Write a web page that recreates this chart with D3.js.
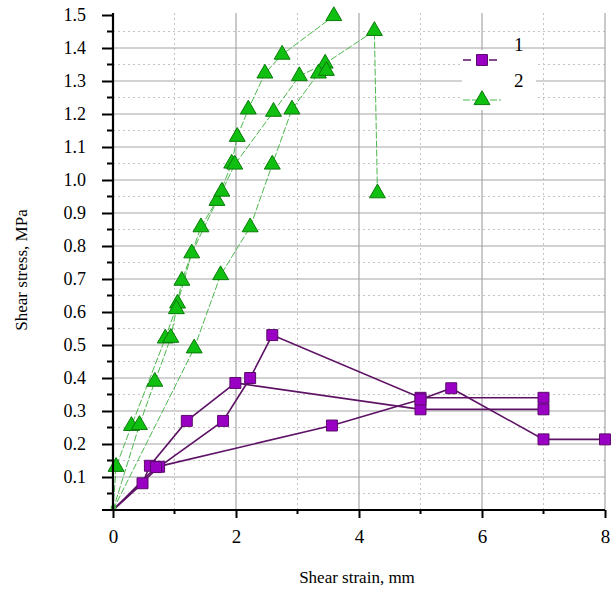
<!DOCTYPE html>
<html>
<head>
<meta charset="utf-8">
<script src="https://cdn.jsdelivr.net/npm/d3@7"></script>
<style>
body { margin: 0; background: #fff; }
text { font-family: "Liberation Serif", "Times New Roman", serif; }
</style>
</head>
<body>
<script>
// series 1: purple squares, three specimens
var purple1 = [[0,0],[0.48,0.081],[0.6,0.134],[1.2,0.27],[1.99,0.385],[5.0,0.305],[7.0,0.305]];
var purple2 = [[0,0],[0.75,0.131],[1.79,0.27],[2.23,0.40],[2.59,0.53],[5.0,0.34],[7.0,0.34]];
var purple3 = [[0,0],[0.7,0.13],[3.56,0.256],[5.0,0.335],[5.5,0.369],[7.0,0.214],[8.0,0.214]];
// series 2: green triangles
var green1 = [[0,0],[0.05,0.131],[0.30,0.255],[0.85,0.52],[1.05,0.626],[1.28,0.778],[1.69,0.937],[1.93,1.05],[2.02,1.131],[2.20,1.214],[2.47,1.323],[2.75,1.38],[3.59,1.497]];
var green2 = [[0,0],[0.43,0.258],[0.68,0.389],[0.94,0.522],[1.03,0.609],[1.12,0.695],[1.43,0.857],[1.77,0.965],[1.98,1.047],[2.61,1.207],[3.03,1.315],[3.45,1.353],[4.25,1.452],[4.30,0.96]];
var green3 = [[0,0],[1.32,0.49],[1.75,0.712],[2.23,0.857],[2.59,1.047],[2.91,1.214],[3.34,1.323],[3.47,1.331]];

var xTicks = [0, 2, 4, 6, 8];
var yTicks = [0.1,0.2,0.3,0.4,0.5,0.6,0.7,0.8,0.9,1.0,1.1,1.2,1.3,1.4,1.5];
var legendLabels = ["1", "2"];

var width = 611, height = 590;
var margin = {left: 113, top: 15, right: 6, bottom: 80};

var svg = d3.select("body").append("svg")
    .attr("width", width)
    .attr("height", height);

var x = d3.scaleLinear().domain([0, 8]).range([margin.left, width - margin.right]);
var y = d3.scaleLinear().domain([0, 1.5]).range([height - margin.bottom, margin.top]);

// grid: dotted at half steps, solid at main steps
var grid = svg.append("g");
d3.range(0.05, 1.5, 0.1).forEach(function(v) {
    grid.append("line").attr("x1", x(0)).attr("x2", x(8)).attr("y1", y(v)).attr("y2", y(v))
        .attr("stroke", "#c4c4c4").attr("stroke-dasharray", "2,3");
});
[1, 3, 5, 7].forEach(function(v) {
    grid.append("line").attr("x1", x(v)).attr("x2", x(v)).attr("y1", y(0)).attr("y2", y(1.5) - 2)
        .attr("stroke", "#c4c4c4").attr("stroke-dasharray", "2,3");
});
yTicks.slice(0, -1).forEach(function(v) {
    grid.append("line").attr("x1", x(0)).attr("x2", x(8)).attr("y1", y(v)).attr("y2", y(v))
        .attr("stroke", "#a6a6a6").attr("stroke-width", 1.2);
});
xTicks.slice(1).forEach(function(v) {
    grid.append("line").attr("x1", x(v)).attr("x2", x(v)).attr("y1", y(0)).attr("y2", y(1.5) - 2)
        .attr("stroke", "#a6a6a6").attr("stroke-width", 1.2);
});

// legend backdrop
svg.append("rect").attr("x", 462).attr("y", 50).attr("width", 74).attr("height", 60).attr("fill", "#fff");

var line = d3.line().x(function(d) { return x(d[0]); }).y(function(d) { return y(d[1]); });

[green1, green2, green3].forEach(function(s) {
    svg.append("path").datum(s).attr("d", line)
       .attr("fill", "none").attr("stroke", "#4cb84c").attr("stroke-width", 1)
       .attr("stroke-dasharray", "7,2");
});
[purple1, purple2, purple3].forEach(function(s) {
    svg.append("path").datum(s).attr("d", line)
       .attr("fill", "none").attr("stroke", "#5e1266").attr("stroke-width", 1.6);
});

var tri = d3.symbol().type(d3.symbolTriangle).size(110);
var sq = d3.symbol().type(d3.symbolSquare).size(120);

[green1, green2, green3].forEach(function(s) {
    svg.append("g").selectAll("path").data(s.slice(1)).enter().append("path")
       .attr("d", tri)
       .attr("transform", function(d) { return "translate(" + x(d[0]) + "," + y(d[1]) + ")"; })
       .attr("fill", "#10c010").attr("stroke", "#0a7a0a").attr("stroke-width", 1);
});
[purple1, purple2, purple3].forEach(function(s) {
    svg.append("g").selectAll("path").data(s.slice(1)).enter().append("path")
       .attr("d", sq)
       .attr("transform", function(d) { return "translate(" + x(d[0]) + "," + y(d[1]) + ")"; })
       .attr("fill", "#9a00c4").attr("stroke", "#5a0a6a").attr("stroke-width", 1);
});
// start points at origin
svg.append("path").attr("d", d3.symbol().type(d3.symbolSquare).size(30))
   .attr("transform", "translate(" + x(0.01) + "," + y(0.005) + ")").attr("fill", "#3fae3f");

// axes
var yAxis = d3.axisLeft(y).tickValues(yTicks).tickSize(11).tickPadding(16).tickFormat(d3.format(".1f"));
var gy = svg.append("g").attr("transform", "translate(" + x(0) + ",0)").call(yAxis);
gy.select(".domain").attr("stroke", "#000").attr("stroke-width", 2.2).attr("d", "M0," + (y(1.5) - 2) + "V" + y(0));
gy.selectAll(".tick line").attr("stroke-width", 2);
gy.selectAll(".tick text").attr("font-size", 18).attr("font-family", "Liberation Serif").attr("fill", "#000");
d3.range(0.05, 1.5, 0.1).forEach(function(v) {
    gy.append("line").attr("x1", -6).attr("x2", 0).attr("y1", y(v)).attr("y2", y(v))
      .attr("stroke", "#000").attr("stroke-width", 2);
});
gy.append("line").attr("x1", -11).attr("x2", 0).attr("y1", y(0)).attr("y2", y(0))
  .attr("stroke", "#000").attr("stroke-width", 2);

var xAxis = d3.axisBottom(x).tickValues(xTicks).tickSize(8).tickPadding(12).tickFormat(d3.format("d"));
var gx = svg.append("g").attr("transform", "translate(0," + y(0) + ")").call(xAxis);
gx.select(".domain").attr("stroke", "#000").attr("stroke-width", 2.2).attr("d", "M" + x(0) + ",0H" + x(8));
gx.selectAll(".tick line").attr("stroke-width", 2);
gx.selectAll(".tick text").attr("font-size", 19).attr("font-family", "Liberation Serif").attr("fill", "#000");
[1, 3, 5, 7].forEach(function(v) {
    gx.append("line").attr("x1", x(v)).attr("x2", x(v)).attr("y1", 0).attr("y2", 4)
      .attr("stroke", "#000").attr("stroke-width", 2);
});

// axis titles
svg.append("text").attr("x", 357).attr("y", 583).attr("text-anchor", "middle")
   .attr("font-size", 17).text("Shear strain, mm");
svg.append("text").attr("transform", "translate(27,270) rotate(-90)").attr("text-anchor", "middle")
   .attr("font-size", 17).text("Shear stress, MPa");

// legend
var lg = svg.append("g");
lg.append("line").attr("x1", 463).attr("x2", 501).attr("y1", 60).attr("y2", 60)
  .attr("stroke", "#5e1266").attr("stroke-width", 1.6).attr("stroke-dasharray", "8,5");
lg.append("path").attr("d", sq).attr("transform", "translate(482,60)")
  .attr("fill", "#9a00c4").attr("stroke", "#5a0a6a");
lg.append("line").attr("x1", 463).attr("x2", 501).attr("y1", 100).attr("y2", 100)
  .attr("stroke", "#4cb84c").attr("stroke-width", 1).attr("stroke-dasharray", "7,2");
lg.append("path").attr("d", tri).attr("transform", "translate(482,100)")
  .attr("fill", "#10c010").attr("stroke", "#0a7a0a");
lg.selectAll("text.lab").data(legendLabels).enter().append("text")
  .attr("x", 514).attr("y", function(d, i) { return 51 + i * 36; })
  .attr("font-size", 19).text(function(d) { return d; });
</script>
</body>
</html>
